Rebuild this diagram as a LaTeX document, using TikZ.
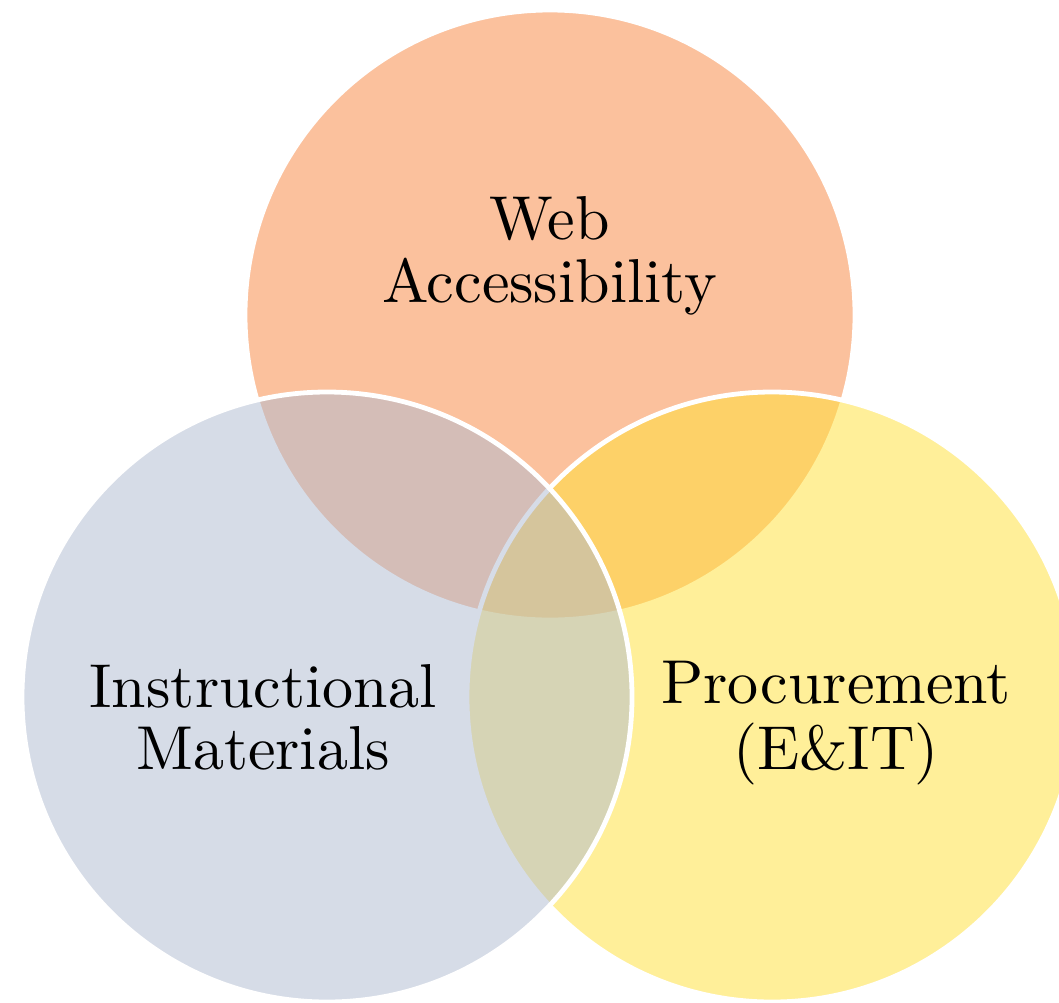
\documentclass[tikz,border=0pt]{standalone}
\begin{document}
\begin{tikzpicture}[x=0.5pt,y=-0.5pt,
  disc/.style={line width=2.4pt, draw=white, draw opacity=1},
  lbl/.style={inner sep=0pt, anchor=base,
    font=\fontsize{10}{10}\selectfont}]
\definecolor{webfill}{RGB}{251,193,157}
\definecolor{procfill}{RGB}{255,225,53}
\definecolor{instfill}{RGB}{174,186,209}
% two centred lines, set at 10pt and enlarged
\newcommand\setlabel[2]{\scalebox{3.1}{\begin{tabular}[b]{@{}c@{}}#1\\#2\end{tabular}}}
\fill[white] (0,0) rectangle (1059,1002);
\useasboundingbox (0,0) rectangle (1059,1002);
\clip (0,0) rectangle (1059,1002);
\coordinate (cweb)  at (550,315);
\coordinate (cinst) at (327,697);
\coordinate (cproc) at (772,697);
% three overlapping sets: top, right, then left on top
\path[disc, fill=webfill] (cweb) circle[radius=152.5pt];
\path[disc, fill=procfill, fill opacity=0.5] (cproc) circle[radius=152.5pt];
\path[disc, fill=instfill, fill opacity=0.5] (cinst) circle[radius=152.5pt];
% set labels (anchored at the baseline of the second line)
\node[lbl] (web)  at (549.5,302) {\setlabel{Web}{Accessibility}};
\node[lbl] (inst) at (263,769) {\setlabel{Instructional}{Materials}};
\node[lbl] (proc) at (836,769) {\setlabel{Procurement}{(E\&IT)}};
\end{tikzpicture}
\end{document}
